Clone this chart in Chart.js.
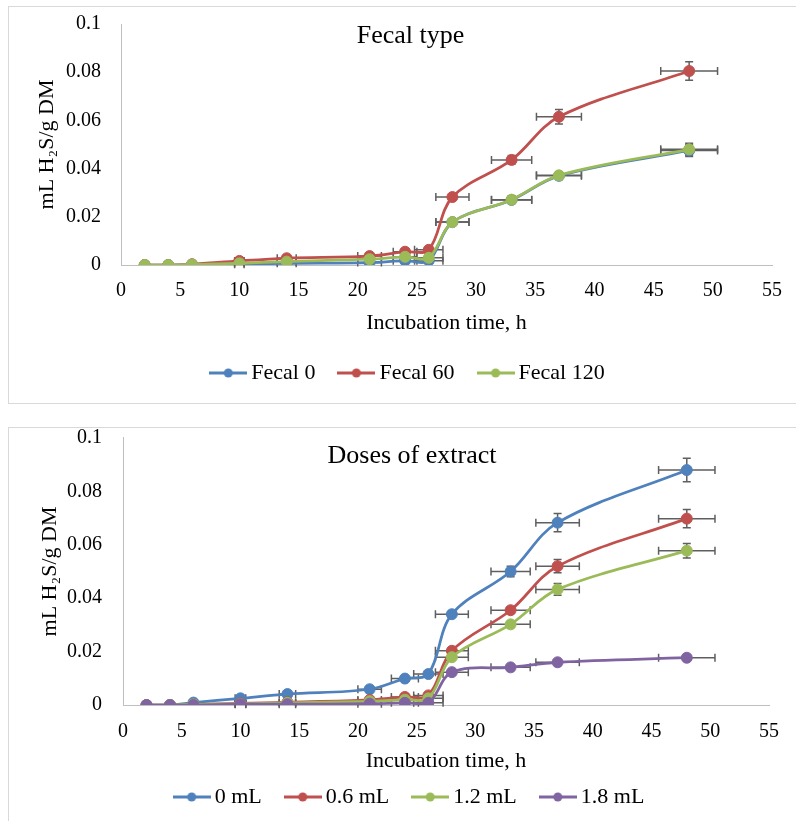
<!DOCTYPE html>
<html><head><meta charset="utf-8">
<script src="https://cdn.jsdelivr.net/npm/chart.js@4.4.0/dist/chart.umd.min.js"></script>
<style>
html,body{margin:0;padding:0;background:#fff;width:796px;height:821px;overflow:hidden;position:relative;}
.panel{position:absolute;left:8px;width:820px;border:1px solid #D9D9D9;box-sizing:border-box;}
#p1{top:6px;height:398px;}
#p2{top:427px;height:420px;}
.wrap{position:absolute;left:0;width:796px;}
#w1{top:0;height:410px;}
#w2{top:420px;height:401px;}
canvas{display:block;}
</style></head><body>
<div class="panel" id="p1"></div><div class="panel" id="p2"></div>
<div class="wrap" id="w1"><canvas id="c1" width="796" height="410"></canvas></div>
<div class="wrap" id="w2"><canvas id="c2" width="796" height="401"></canvas></div>
<script>
// ---------- data ----------
const times = [2, 4, 6, 10, 14, 21, 24, 26, 28, 33, 37, 48];
const xTickValues = [0, 5, 10, 15, 20, 25, 30, 35, 40, 45, 50, 55];
const xTickLabels = ['0','5','10','15','20','25','30','35','40','45','50','55'];
const yTickValues = [0, 0.02, 0.04, 0.06, 0.08, 0.1];
const yTickLabels = ['0','0.02','0.04','0.06','0.08','0.1'];

// Chart 1: Fecal type
const fecalNames = ['Fecal 0', 'Fecal 60', 'Fecal 120'];
const fecal0   = [0, 0, 0.0002, 0.0003, 0.0007, 0.0010, 0.0018, 0.0018, 0.0178, 0.0270, 0.0370, 0.0475];
const fecal60  = [0, 0, 0.0003, 0.0017, 0.0028, 0.0037, 0.0055, 0.0063, 0.0282, 0.0436, 0.0615, 0.0805];
const fecal120 = [0, 0, 0.0002, 0.0007, 0.0014, 0.0024, 0.0034, 0.0030, 0.0178, 0.0271, 0.0372, 0.0480];
const fecalTimeErr = [0, 0, 0, 0.4, 0.8, 1.0, 1.0, 1.2, 1.4, 1.7, 1.9, 2.4];
const fecal0Err   = [0, 0, 0, 0, 0, 0, 0, 0, 0.001, 0.0015, 0.0015, 0.0025];
const fecal60Err  = [0, 0, 0, 0, 0, 0, 0, 0, 0.001, 0.0018, 0.0030, 0.0038];
const fecal120Err = [0, 0, 0, 0, 0, 0, 0, 0, 0.001, 0.0015, 0.0015, 0.0025];

// Chart 2: Doses of extract
const doseNames = ['0 mL', '0.6 mL', '1.2 mL', '1.8 mL'];
const dose00 = [0, 0, 0.0009, 0.0025, 0.0041, 0.0059, 0.0099, 0.0116, 0.0340, 0.0500, 0.0683, 0.0880];
const dose06 = [0, 0, 0.0002, 0.0006, 0.0010, 0.0019, 0.0030, 0.0036, 0.0203, 0.0355, 0.0520, 0.0698];
const dose12 = [0, 0, 0.0002, 0.0004, 0.0008, 0.0014, 0.0020, 0.0025, 0.0179, 0.0302, 0.0433, 0.0578];
const dose18 = [0, 0, 0, 0.0003, 0.0003, 0.0005, 0.0008, 0.0008, 0.0123, 0.0141, 0.0160, 0.0177];
const doseTimeErr = [0, 0, 0, 0.45, 0.7, 1.0, 1.15, 1.25, 1.4, 1.67, 1.85, 2.4];
const dose00Err = [0, 0, 0, 0, 0, 0, 0, 0, 0.001, 0.002, 0.0034, 0.0044];
const dose06Err = [0, 0, 0, 0, 0, 0, 0, 0, 0.001, 0.0012, 0.0025, 0.0034];
const dose12Err = [0, 0, 0, 0, 0, 0, 0, 0, 0.0008, 0.001, 0.0022, 0.0027];
const dose18Err = [0, 0, 0, 0, 0, 0, 0, 0, 0, 0, 0, 0];

const colors = ['#4F81BD', '#C0504D', '#9BBB59', '#8064A2'];

// ---------- helpers ----------
const FONT = "'Liberation Serif', 'Times New Roman', serif";
Chart.defaults.font.family = FONT;
Chart.defaults.color = '#000';

function icon(color) {
  const c = document.createElement('canvas');
  c.width = 38; c.height = 12;
  const g = c.getContext('2d');
  g.strokeStyle = color; g.lineWidth = 3;
  g.beginPath(); g.moveTo(0, 6); g.lineTo(38, 6); g.stroke();
  g.fillStyle = color;
  g.beginPath(); g.arc(19, 6, 4.5, 0, Math.PI * 2); g.fill();
  return c;
}

function makeDataset(label, values, xErr, yErr, i, n) {
  return {
    label: label,
    data: times.map((t, k) => ({x: t, y: values[k]})),
    xErr: xErr, yErr: yErr,
    borderColor: colors[i], backgroundColor: colors[i],
    pointBackgroundColor: colors[i], pointBorderColor: colors[i],
    borderWidth: 2.75, pointRadius: 5.5, pointBorderWidth: 1,
    tension: 0.35, order: n - i, legendIcon: icon(colors[i])
  };
}

const errorBars = {
  id: 'errorBars',
  beforeDatasetsDraw(chart) {
    const {ctx, scales: {x, y}} = chart;
    ctx.save();
    ctx.strokeStyle = '#5F5F5F';
    ctx.lineWidth = 1.5;
    const cap = 4;
    chart.data.datasets.forEach(ds => {
      ds.data.forEach((p, k) => {
        const px = x.getPixelForValue(p.x), py = y.getPixelForValue(p.y);
        const ex = ds.xErr[k], ey = ds.yErr[k];
        ctx.beginPath();
        if (ex > 0) {
          const l = x.getPixelForValue(p.x - ex), r = x.getPixelForValue(p.x + ex);
          ctx.moveTo(l, py); ctx.lineTo(r, py);
          ctx.moveTo(l, py - cap); ctx.lineTo(l, py + cap);
          ctx.moveTo(r, py - cap); ctx.lineTo(r, py + cap);
        }
        if (ey > 0) {
          const t = y.getPixelForValue(p.y + ey), b = y.getPixelForValue(p.y - ey);
          ctx.moveTo(px, t); ctx.lineTo(px, b);
          ctx.moveTo(px - cap, t); ctx.lineTo(px + cap, t);
          ctx.moveTo(px - cap, b); ctx.lineTo(px + cap, b);
        }
        ctx.stroke();
      });
    });
    ctx.restore();
  }
};

function makeChart(canvasId, title, datasets, g) {
  return new Chart(document.getElementById(canvasId), {
    type: 'line',
    data: {datasets: datasets},
    plugins: [errorBars],
    options: {
      responsive: false, animation: false, devicePixelRatio: 1,
      layout: {padding: {left: g.L, right: g.R, top: 0, bottom: g.B}},
      plugins: {
        tooltip: {enabled: false},
        title: {
          display: true, text: title, color: '#000',
          font: {family: FONT, size: 26, weight: 'normal'},
          padding: {top: 21, bottom: g.titleBottom}
        },
        legend: {
          position: 'bottom',
          labels: {
            font: {family: FONT, size: 22}, color: '#000',
            usePointStyle: true, pointStyleWidth: 24, padding: 29,
            sort: (a, b) => a.datasetIndex - b.datasetIndex,
            generateLabels: (chart) => {
              const items = Chart.defaults.plugins.legend.labels.generateLabels(chart);
              items.forEach(it => { it.pointStyle = chart.data.datasets[it.datasetIndex].legendIcon; });
              return items;
            }
          }
        }
      },
      scales: {
        x: {
          type: 'linear', min: 0, max: 55,
          afterBuildTicks: s => { s.ticks = xTickValues.map(v => ({value: v})); },
          afterFit: s => { s.height = g.xH; },
          grid: {display: false, drawTicks: false},
          border: {display: true, color: '#BFBFBF', width: 1},
          ticks: {font: {size: 20}, color: '#000', padding: g.xTickPad, maxRotation: 0,
                  callback: (v, i) => xTickLabels[i]},
          title: {display: true, text: 'Incubation time, h', color: '#000',
                  font: {size: 22, lineHeight: 1}, padding: {top: 0, bottom: g.xTitleBottom}}
        },
        y: {
          type: 'linear', min: 0, max: 0.1,
          afterBuildTicks: s => { s.ticks = yTickValues.map(v => ({value: v})); },
          afterFit: s => { s.width = g.yW; s.paddingTop = 0; s.paddingBottom = 0; },
          grid: {display: false, drawTicks: false},
          border: {display: true, color: '#BFBFBF', width: 1},
          ticks: {font: {size: 20}, color: '#000', padding: g.yTickPad,
                  callback: (v, i) => yTickLabels[i]},
          title: {display: true, text: 'mL H\u2082S/g DM', color: '#000',
                  font: {size: 22, lineHeight: 1}, padding: {top: g.yTitleTop, bottom: 0}}
        }
      }
    }
  });
}

makeChart('c1', 'Fecal type', [
  makeDataset(fecalNames[0], fecal0, fecalTimeErr, fecal0Err, 0, 3),
  makeDataset(fecalNames[1], fecal60, fecalTimeErr, fecal60Err, 1, 3),
  makeDataset(fecalNames[2], fecal120, fecalTimeErr, fecal120Err, 2, 3)
], {L: 46, R: 21, B: 16, titleBottom: -28.2, xH: 68, xTickPad: 14, xTitleBottom: -1,
    yW: 75, yTickPad: 20, yTitleTop: -10});

makeChart('c2', 'Doses of extract', [
  makeDataset(doseNames[0], dose00, doseTimeErr, dose00Err, 0, 4),
  makeDataset(doseNames[1], dose06, doseTimeErr, dose06Err, 1, 4),
  makeDataset(doseNames[2], dose12, doseTimeErr, dose12Err, 2, 4),
  makeDataset(doseNames[3], dose18, doseTimeErr, dose18Err, 3, 4)
], {L: 55, R: 27, B: 3, titleBottom: -34.2, xH: 52, xTickPad: 15, xTitleBottom: -15,
    yW: 68, yTickPad: 21, yTitleTop: -16});
</script>
</body></html>
